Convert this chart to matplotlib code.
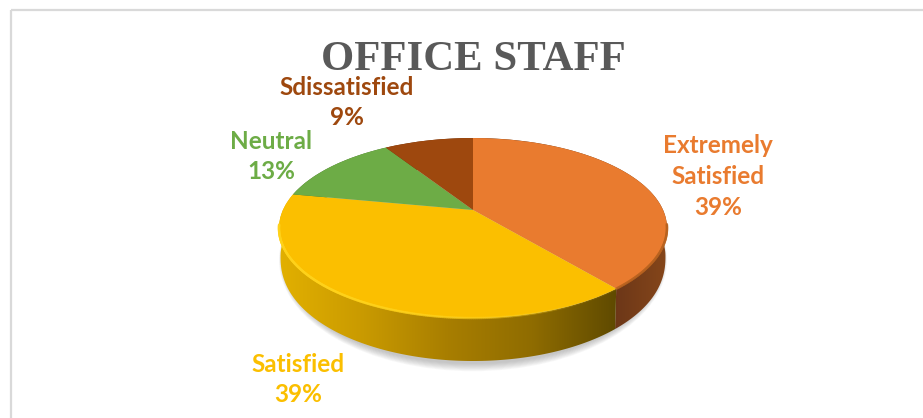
import numpy as np
import matplotlib
matplotlib.use("Agg")
import matplotlib.pyplot as plt
from matplotlib.transforms import Transform
from matplotlib.patches import Polygon, Ellipse, Rectangle
from matplotlib.collections import LineCollection
from matplotlib.colors import LinearSegmentedColormap, to_rgba

title = "OFFICE STAFF"
categories = ["Extremely\nSatisfied", "Satisfied", "Neutral", "Sdissatisfied"]
values = [39, 39, 13, 9]
colors = ["#E97B2F", "#FBBF00", "#6DAC46", "#9E480E"]
label_xy = [(718, 176.5), (298, 379.5), (271, 156.5), (347, 102.5)]

CX, CY, RX, RY = 473, 228, 194, 90
TILT = 0.2


def project(xy):
    xy = np.asarray(xy, dtype=float)
    x, y = xy[..., 0], xy[..., 1]
    d = 1 + TILT * y
    px = x * np.sqrt(1 - TILT ** 2) / d
    py = (y + TILT) / d
    return np.stack([CX + RX * px, CY - RY * py], axis=-1)


class Persp(Transform):
    input_dims = output_dims = 2
    is_separable = False
    has_inverse = False

    def transform_non_affine(self, values):
        return project(values)


def arc(theta1, theta2, n=200):
    t = np.radians(np.linspace(theta1, theta2, n))
    return project(np.column_stack([np.cos(t), np.sin(t)]))


def lower(pts):
    s = np.clip((pts[:, 1] - CY) / RY, 0, 1)
    depth = 28 + 15 * np.sqrt(s)
    return np.column_stack([CX + (pts[:, 0] - CX) * 0.992, pts[:, 1] + depth])


fig = plt.figure(figsize=(9.23, 4.18), dpi=100, facecolor="white")
ax = fig.add_axes([0, 0, 1, 1])

wedges, _ = ax.pie(values, colors=colors, startangle=90, counterclock=False,
                   wedgeprops=dict(linewidth=0, zorder=5))
persp = Persp() + ax.transData
for w in wedges:
    w.set_transform(persp)

# soft ground shadow
for i in range(9):
    ax.add_patch(Ellipse((CX, 260), 2 * (190 + i * 0.5), 2 * (104 + i * 0.9),
                         facecolor="#707070", alpha=0.05, linewidth=0, zorder=1))

# side walls with horizontal gradient
side_stops = [
    ["#5C2E10", "#623214", "#683516", "#6E3818", "#85461A"],
    ["#E2B000", "#C99A00", "#A87E00", "#8F6C00", "#5F4A00"],
    ["#4A6F2D", "#4A6F2D"],
    ["#6A300A", "#6A300A"],
]
for w, stops in zip(wedges, side_stops):
    top = arc(w.theta1, w.theta2)
    bot = lower(top)
    poly = np.vstack([top, bot[::-1]])
    x0, x1 = poly[:, 0].min(), poly[:, 0].max()
    y0, y1 = poly[:, 1].min(), poly[:, 1].max()
    cmap = LinearSegmentedColormap.from_list("side", stops)
    grad = np.linspace(0, 1, 256)[None, :]
    im = ax.imshow(grad, cmap=cmap, extent=[x0, x1, y1, y0], aspect="auto", zorder=3)
    clip = Polygon(poly, closed=True, transform=ax.transData, facecolor="none", edgecolor="none")
    ax.add_patch(clip)
    im.set_clip_path(clip)

# bevel rim on the front edges
rim_colors = ["#B8621F", "#FFD21A"]
for w, c in zip(wedges[:2], rim_colors):
    pts = arc(w.theta1, w.theta2, 300)
    pts = pts[pts[:, 1] > CY - 4]
    segs = np.stack([pts[:-1], pts[1:]], axis=1)
    base = np.array(to_rgba(c))
    rgba = np.tile(base, (len(segs), 1))
    frac = (segs[:, 0, 0] - CX + RX) / (2 * RX)
    if c == "#FFD21A":
        rgba[:, 3] = np.clip(1.05 - frac * 1.3, 0.05, 0.9)
    else:
        rgba[:, 3] = np.clip(frac * 1.2 - 0.4, 0.2, 0.7)
    ax.add_collection(LineCollection(segs, colors=rgba, linewidths=1.8, zorder=6, capstyle="round"))

for cat, val, col, (lx, ly) in zip(categories, values, colors, label_xy):
    ax.text(lx, ly, f"{cat}\n{val}%", color=col, ha="center", va="center",
            family="Lato", weight="bold", fontsize=17.5, linespacing=1.41, zorder=8)

ax.text(473.5, 60, title, color="#595959", ha="center", va="center",
        family="Liberation Serif", weight="bold", fontsize=30.8, zorder=8)

# chart frame: runs past the right and bottom edges of the picture
ax.add_patch(Rectangle((11, 10), 950, 450, facecolor="none", edgecolor="#D9D9D9",
                       linewidth=1.6, zorder=0, clip_on=True))

ax.set_xlim(0, 923)
ax.set_ylim(418, 0)
ax.set_aspect("auto")
ax.axis("off")
fig.savefig("out.png", dpi=100, facecolor="white")
